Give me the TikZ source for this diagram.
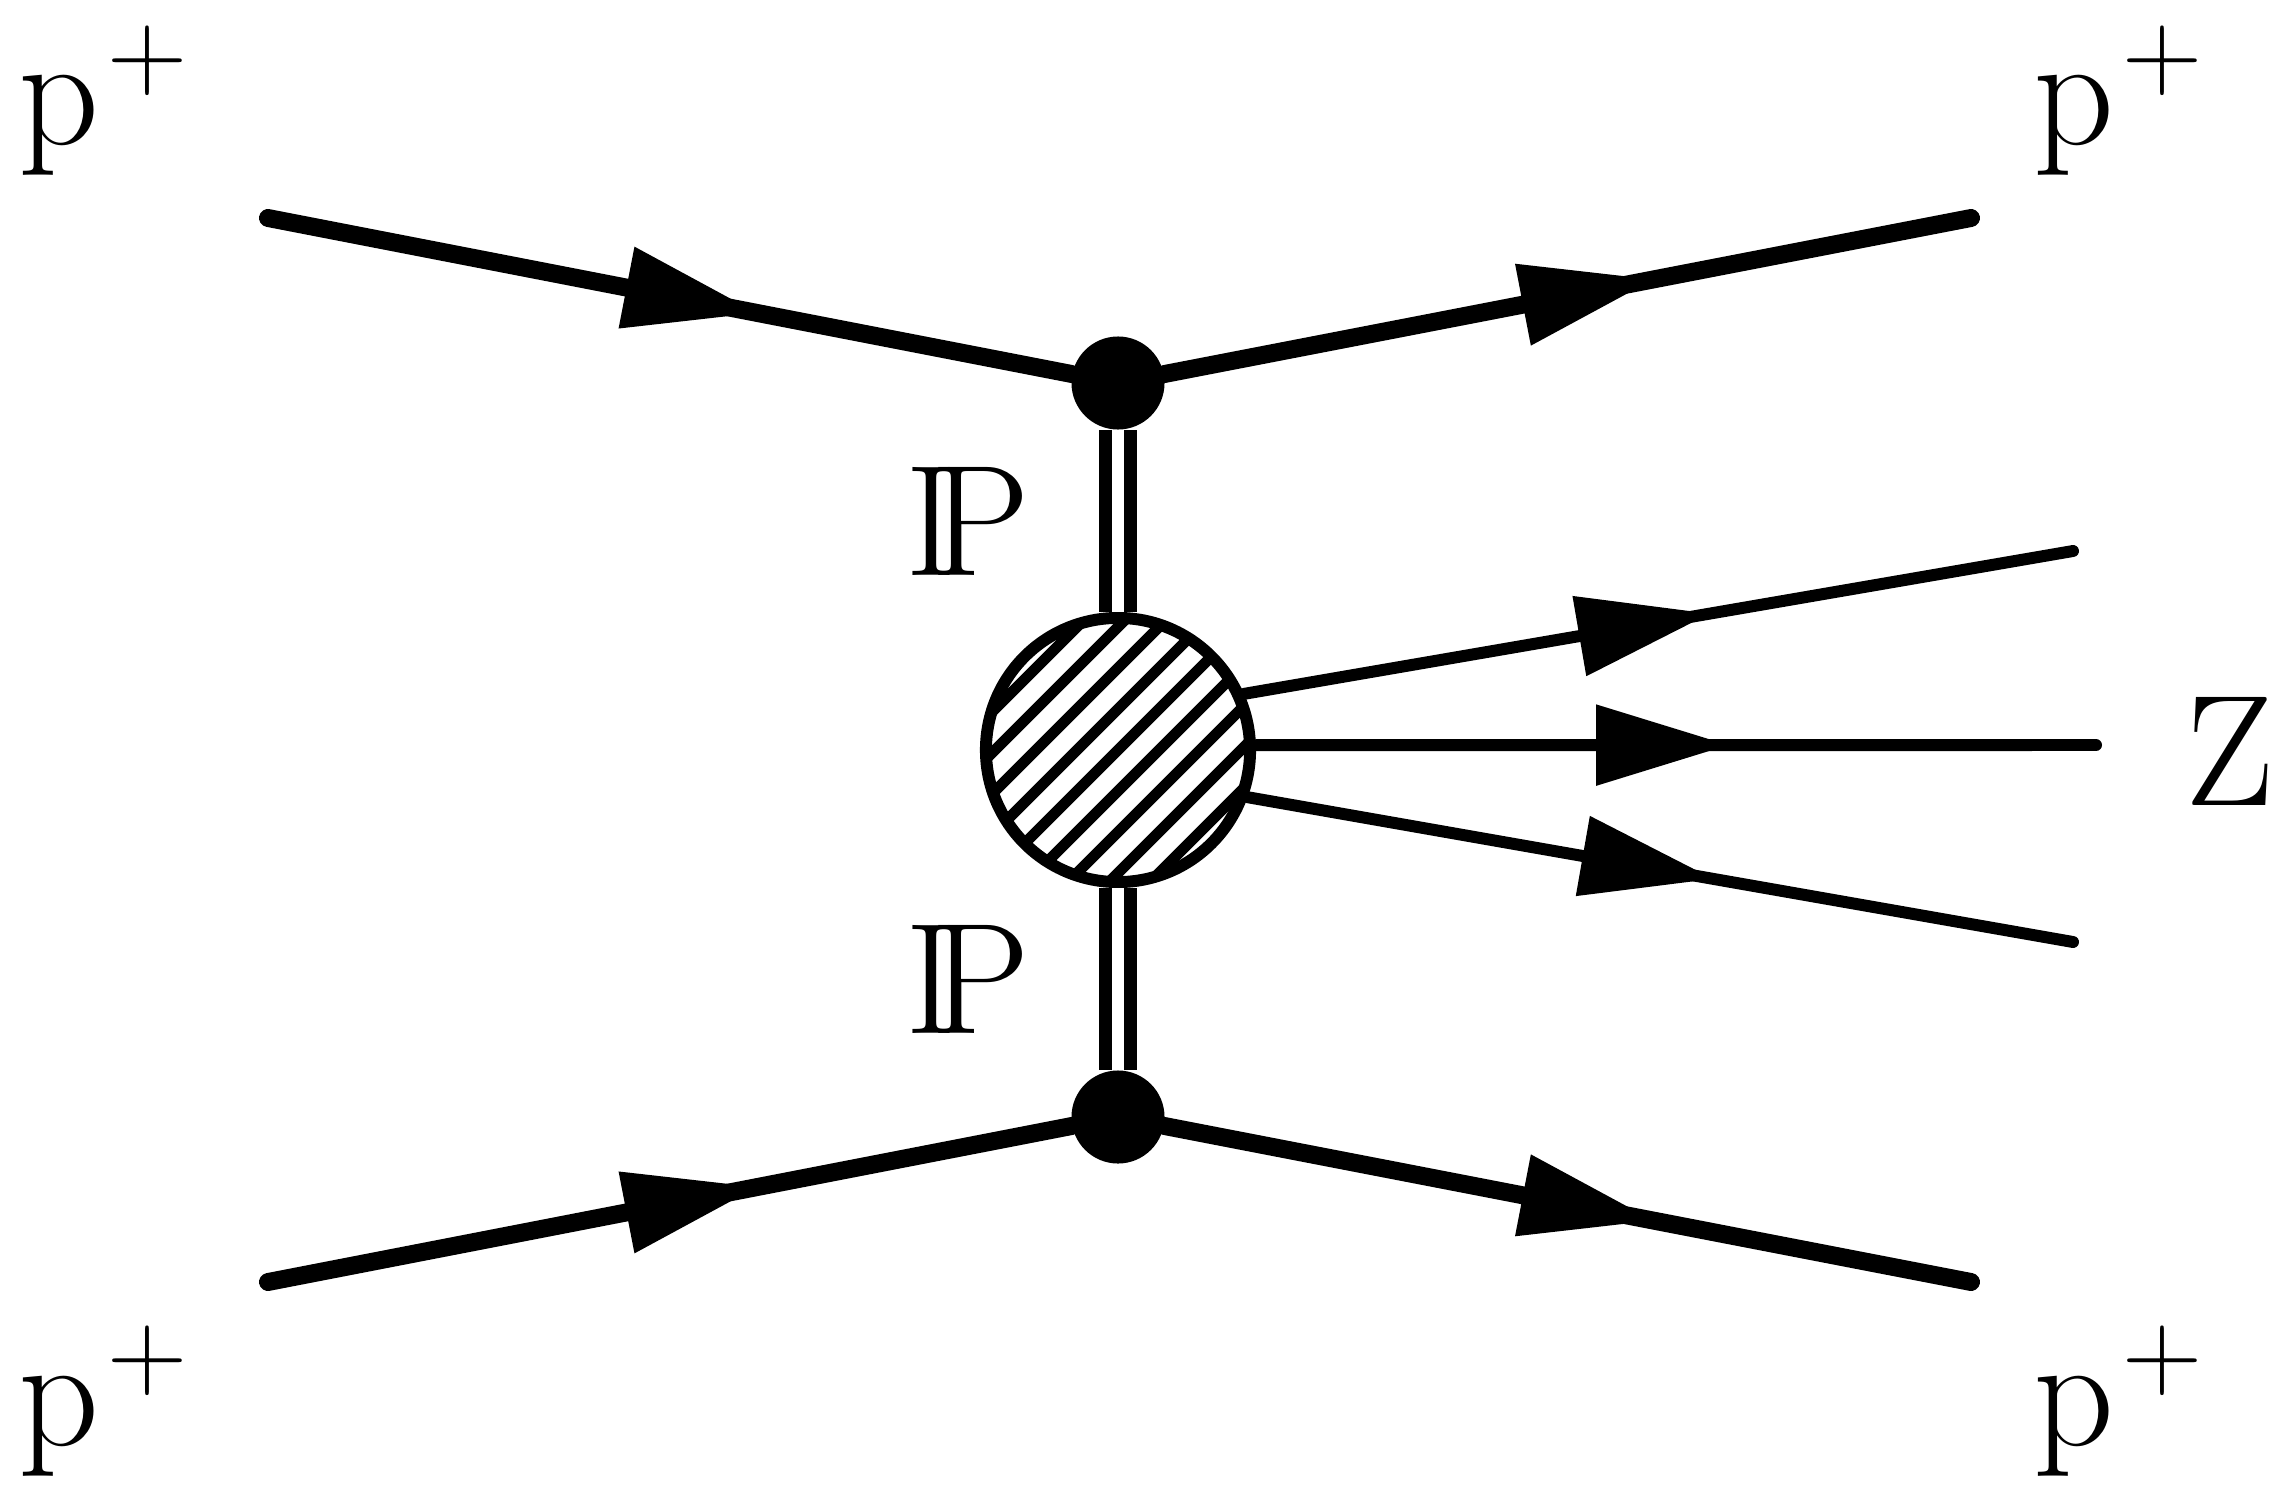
\documentclass[tikz,border=0pt]{standalone}
\usetikzlibrary{arrows.meta,decorations.markings}

\newcommand{\pplus}{p\kern0.05em\raisebox{0.36em}{\fontsize{31.6}{38}\selectfont +}}

\begin{document}
\begin{tikzpicture}[x=0.01cm, y=-0.01cm,
	proton/.style={line width=5.1pt, line cap=round, postaction={decorate},
		decoration={markings, mark=at position 5.0cm with {\arrow{Triangle[length=1.35cm, width=0.78cm]}}}},
	fermout/.style={line width=3.4pt, line cap=round, postaction={decorate},
		decoration={markings, mark=at position 4.73cm with {\arrow{Triangle[length=1.33cm, width=0.78cm]}}}},
	pomeron/.style={double, line width=3.7pt, double distance=3.4pt},
	vertex/.style={circle, fill, inner sep=0pt, minimum size=0.93cm},
	blob/.style={circle, draw, fill=white, line width=3.4pt, inner sep=0pt, minimum size=2.64cm,
		path picture={\foreach \k in {-4,...,4}
			\draw[line width=3.1pt] ([shift={(\k*20.5-150,\k*20.5+150)}]path picture bounding box.center) -- ++(300,-300);}},
	txt/.style={inner sep=0pt, font=\fontsize{45}{54}\selectfont}]
	\useasboundingbox (0,0) rectangle (2291,1500);
	
	% Vertices
	\node[vertex] (vtop) at (1118,383) {};
	\node[vertex] (vbot) at (1118,1117) {};
	\node[blob] (blob) at (1118,750) {};
	
	% External ends
	\coordinate (pin1) at (268,218);
	\coordinate (pout1) at (1971,218);
	\coordinate (pin2) at (268,1282);
	\coordinate (pout2) at (1971,1282);
	\coordinate (xup) at (2073,551);
	\coordinate (zout) at (2096,745);
	\coordinate (xdown) at (2073,942);
	
	% Proton lines
	\draw[proton] (pin1) -- (vtop);
	\draw[proton] (vtop) -- (pout1);
	\draw[proton] (pin2) -- (vbot);
	\draw[proton] (vbot) -- (pout2);
	
	% Pomeron exchange
	\draw[pomeron] (vtop) -- (blob);
	\draw[pomeron] (vbot) -- (blob);
	
	% Central system
	\draw[fermout] (blob.24) -- (xup);
	\draw[fermout] (blob.2) -- (zout);
	\draw[fermout] (blob.-20) -- (xdown);
	
	% Labels
	\node[txt, anchor=base west] (ltl) at (18,145) {\pplus};
	\node[txt, anchor=base west] (ltr) at (2033,145) {\pplus};
	\node[txt, anchor=base west] (lbl) at (18,1445) {\pplus};
	\node[txt, anchor=base west] (lbr) at (2033,1445) {\pplus};
	\node[txt] (lz) at (2230,751) {Z};
	\node[txt] (lpt) at (968,521) {I\kern-0.17em P};
	\node[txt] (lpb) at (968,979) {I\kern-0.17em P};
\end{tikzpicture}
\end{document}
